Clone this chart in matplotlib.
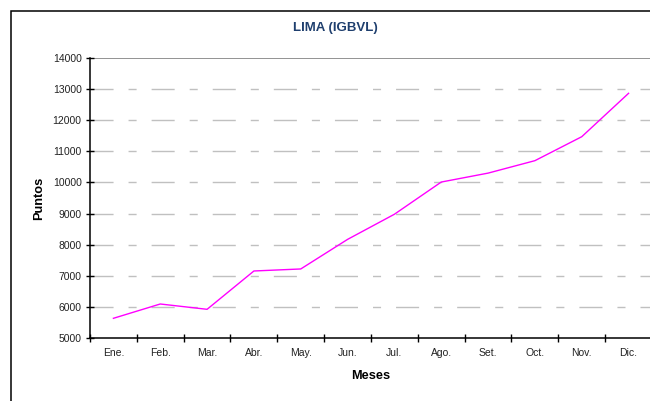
import matplotlib
matplotlib.use("Agg")
import matplotlib.pyplot as plt
from matplotlib.patches import Rectangle
from matplotlib.ticker import FixedLocator

plt.rcParams['font.family'] = ['Liberation Sans', 'DejaVu Sans']

months = ["Ene.", "Feb.", "Mar.", "Abr.", "May.", "Jun.",
          "Jul.", "Ago.", "Set.", "Oct.", "Nov.", "Dic."]
puntos = [5633, 6093, 5922, 7154, 7219, 8170,
          8978, 10013, 10300, 10700, 11470, 12865]
y_ticks = list(range(5000, 14001, 1000))

fig = plt.figure(figsize=(6.5, 4.01), dpi=100)
ax = fig.add_axes([90 / 650, 1 - 338 / 401, 562 / 650, 280 / 401])

# outer chart frame (runs past right/bottom edge like the original)
fig.patches.append(Rectangle((10.5 / 650, -0.2), 1.2, 1.2 - 10.5 / 401,
                             transform=fig.transFigure, fill=False,
                             edgecolor="black", lw=1.1))

x = list(range(len(months)))
ax.plot(x, puntos, color="#FF00FF", lw=1.0, zorder=3)

ax.set_xlim(-0.5, len(months) - 0.5)
ax.set_ylim(5000, 14000)

# dashed gridlines, solid gray at the top
for v in y_ticks[1:-1]:
    ax.axhline(v, color="#C0C0C0", lw=1.0, dashes=(16.6, 10.8, 5.8, 10.8), zorder=1)
ax.axhline(14000, color="#808080", lw=1.2, zorder=1)

ax.set_yticks(y_ticks)
ax.set_xticks(x)
ax.set_xticklabels(months)
ax.xaxis.set_minor_locator(FixedLocator([i - 0.5 for i in range(len(months) + 1)]))

ax.tick_params(axis="x", which="major", length=0, pad=7.5, labelsize=7.5, labelcolor="#222222")
ax.tick_params(axis="x", which="minor", direction="inout", length=6, width=1, color="black")
ax.tick_params(axis="y", direction="inout", length=6, width=1, pad=3, labelsize=7.5,
               labelcolor="#222222")

for s in ["top", "right"]:
    ax.spines[s].set_visible(False)
ax.spines["left"].set_linewidth(1.1)
ax.spines["bottom"].set_linewidth(1.1)

ax.set_ylabel("Puntos", fontsize=9.2, fontweight="bold")
ax.yaxis.set_label_coords(-0.080, 0.5)
ax.set_xlabel("Meses", fontsize=9.2, fontweight="bold")
ax.xaxis.set_label_coords(0.5, -0.114)

fig.text(335 / 650, 1 - 28 / 401, "LIMA (IGBVL)", ha="center", va="center",
         fontsize=9.5, fontweight="bold", color="#1F3F6E")

fig.savefig("out.png", dpi=100)
